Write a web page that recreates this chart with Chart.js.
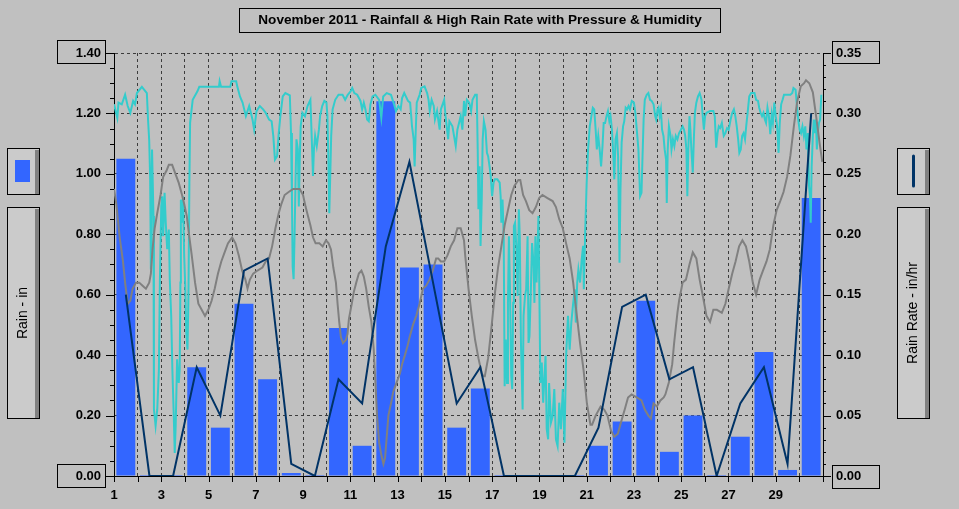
<!DOCTYPE html>
<html>
<head>
<meta charset="utf-8">
<title>November 2011 - Rainfall</title>
<script src="https://cdn.jsdelivr.net/npm/chart.js@4.4.0/dist/chart.umd.min.js"></script>
<style>
  html, body { margin: 0; padding: 0; background: #c0c0c0; }
  canvas { display: block; }
</style>
</head>
<body>
<canvas id="myChart" width="959" height="509"></canvas>
<script>
'use strict';

// jours du mois
let dayLabels = ['1','2','3','4','5','6','7','8','9','10','11','12','13','14','15',
  '16','17','18','19','20','21','22','23','24','25','26','27','28','29','30'];

// pluie par jour (in)
let rainfall = [1.05, 0, 0, 0.36, 0.16, 0.57, 0.32, 0.01, 0, 0.49, 0.10, 1.24, 0.69, 0.70, 0.16,
  0.29, 0, 0, 0, 0, 0.10, 0.18, 0.58, 0.08, 0.20, 0, 0.13, 0.41, 0.02, 0.92];

// intensite max (in/hr)
let rainRate = [0.15, 0, 0, 0.09, 0.05, 0.17, 0.18, 0.01, 0, 0.08, 0.06, 0.19, 0.26, 0.16, 0.06,
  0.09, 0, 0, 0, 0, 0.04, 0.14, 0.15, 0.08, 0.09, 0, 0.06, 0.09, 0.01, 0.30];

// pression (inHg) - jour decimal / valeur
let presDays = [1.00, 1.10, 1.24, 1.38, 1.47, 1.58, 1.69, 1.79, 1.93, 2.07, 2.21, 2.35, 2.49, 2.56, 2.63,
  2.72, 2.83, 2.97, 3.08, 3.22, 3.32, 3.46, 3.60, 3.74, 3.88, 3.97, 4.08, 4.19, 4.29, 4.43,
  4.57, 4.71, 4.85, 4.99, 5.13, 5.26, 5.40, 5.54, 5.68, 5.82, 6.00, 6.14, 6.28, 6.42, 6.56,
  6.65, 6.75, 6.89, 7.07, 7.28, 7.42, 7.56, 7.69, 7.83, 7.97, 8.08, 8.22, 8.39, 8.58, 8.86,
  9.00, 9.11, 9.21, 9.31, 9.42, 9.53, 9.69, 9.83, 9.97, 10.08, 10.18, 10.28, 10.39, 10.46, 10.53,
  10.60, 10.69, 10.81, 10.88, 10.94, 11.06, 11.15, 11.25, 11.36, 11.47, 11.57, 11.67, 11.78, 11.89, 11.99,
  12.06, 12.13, 12.22, 12.31, 12.40, 12.47, 12.54, 12.61, 12.72, 12.82, 12.96, 13.10, 13.19, 13.31, 13.42,
  13.51, 13.65, 13.79, 13.93, 14.07, 14.21, 14.35, 14.49, 14.63, 14.72, 14.83, 14.97, 15.11, 15.25, 15.39,
  15.53, 15.67, 15.81, 15.86, 16.00, 16.14, 16.28, 16.42, 16.56, 16.63, 16.69, 16.83, 16.97, 17.11, 17.25,
  17.39, 17.53, 17.67, 17.81, 17.94, 18.11, 18.19, 18.31, 18.43, 18.57, 18.71, 18.85, 18.99, 19.13, 19.34,
  19.56, 19.70, 19.84, 19.99, 20.13, 20.28, 20.43, 20.57, 20.72, 20.87, 21.01, 21.16, 21.23, 21.38, 21.59,
  21.74, 21.88, 22.03, 22.17, 22.32, 22.46, 22.61, 22.75, 22.90, 23.12, 23.32, 23.46, 23.61, 23.72, 23.83,
  23.97, 24.12, 24.26, 24.33, 24.48, 24.62, 24.70, 24.77, 24.84, 24.91, 25.06, 25.20, 25.35, 25.49, 25.64,
  25.78, 25.93, 26.07, 26.22, 26.36, 26.51, 26.72, 26.87, 27.01, 27.16, 27.30, 27.45, 27.59, 27.74, 27.88,
  28.03, 28.17, 28.32, 28.46, 28.61, 28.75, 28.90, 29.04, 29.19, 29.33, 29.48, 29.62, 29.77, 29.91, 30.06,
  30.20, 30.28, 30.42, 30.57, 30.71, 30.86, 30.97];
let presVals = [30.15, 30.10, 29.99, 29.91, 29.84, 29.77, 29.78, 29.82, 29.84, 29.84, 29.83, 29.82, 29.84, 29.87, 29.95,
  30.02, 30.07, 30.13, 30.19, 30.21, 30.23, 30.23, 30.20, 30.17, 30.13, 30.10, 30.06, 29.99, 29.93, 29.84,
  29.77, 29.75, 29.73, 29.75, 29.78, 29.82, 29.87, 29.91, 29.94, 29.97, 29.99, 29.97, 29.93, 29.88, 29.85,
  29.82, 29.85, 29.87, 29.88, 29.89, 29.91, 29.92, 29.96, 30.02, 30.07, 30.10, 30.13, 30.14, 30.15, 30.15,
  30.13, 30.09, 30.06, 30.03, 29.99, 29.97, 29.97, 29.96, 29.98, 29.97, 29.95, 29.89, 29.84, 29.77, 29.71,
  29.66, 29.64, 29.65, 29.67, 29.72, 29.77, 29.81, 29.84, 29.87, 29.88, 29.86, 29.82, 29.76, 29.71, 29.62,
  29.51, 29.40, 29.31, 29.27, 29.24, 29.26, 29.33, 29.40, 29.44, 29.48, 29.51, 29.54, 29.57, 29.60, 29.63,
  29.66, 29.70, 29.73, 29.77, 29.82, 29.83, 29.85, 29.88, 29.92, 29.92, 29.91, 29.91, 29.93, 29.96, 29.98,
  30.02, 30.02, 29.98, 29.93, 29.82, 29.73, 29.65, 29.59, 29.54, 29.53, 29.53, 29.59, 29.69, 29.80, 29.89,
  29.96, 30.03, 30.08, 30.13, 30.16, 30.18, 30.18, 30.13, 30.11, 30.08, 30.07, 30.09, 30.12, 30.13, 30.12,
  30.11, 30.09, 30.05, 30.02, 29.97, 29.92, 29.84, 29.74, 29.64, 29.55, 29.44, 29.37, 29.37, 29.40, 29.43,
  29.42, 29.40, 29.35, 29.33, 29.34, 29.38, 29.42, 29.46, 29.47, 29.46, 29.45, 29.42, 29.40, 29.39, 29.44,
  29.43, 29.45, 29.46, 29.47, 29.51, 29.57, 29.64, 29.69, 29.74, 29.78, 29.84, 29.85, 29.90, 29.94, 29.92,
  29.85, 29.79, 29.73, 29.71, 29.75, 29.75, 29.74, 29.77, 29.82, 29.87, 29.91, 29.96, 29.98, 29.96, 29.91,
  29.84, 29.80, 29.85, 29.88, 29.91, 29.95, 30.03, 30.08, 30.11, 30.14, 30.19, 30.26, 30.36, 30.44, 30.49,
  30.50, 30.51, 30.50, 30.47, 30.39, 30.30, 30.24];

// humidite (%) - jour decimal / valeur
let humDays = [1.00, 1.14, 1.19, 1.33, 1.47, 1.58, 1.69, 1.81, 1.89, 1.97, 2.18, 2.39, 2.44, 2.49, 2.53,
  2.56, 2.61, 2.67, 2.69, 2.76, 2.83, 2.90, 2.94, 3.00, 3.04, 3.08, 3.14, 3.19, 3.25, 3.32,
  3.36, 3.42, 3.47, 3.53, 3.57, 3.61, 3.67, 3.74, 3.78, 3.81, 3.83, 3.88, 3.92, 3.97, 4.01,
  4.06, 4.11, 4.15, 4.19, 4.22, 4.33, 4.53, 4.61, 5.44, 5.47, 5.53, 5.92, 5.97, 6.17, 6.22,
  6.33, 6.44, 6.58, 6.72, 6.86, 6.93, 7.03, 7.17, 7.31, 7.42, 7.56, 7.67, 7.74, 7.81, 7.90,
  7.97, 8.04, 8.14, 8.25, 8.44, 8.49, 8.53, 8.56, 8.60, 8.64, 8.68, 8.72, 8.78, 8.82, 8.86,
  8.90, 8.97, 9.08, 9.19, 9.31, 9.36, 9.42, 9.46, 9.51, 9.58, 9.67, 9.72, 9.81, 9.90, 9.99,
  10.03, 10.07, 10.11, 10.15, 10.19, 10.25, 10.36, 10.50, 10.67, 10.78, 10.89, 11.01, 11.08, 11.17, 11.29,
  11.43, 11.50, 11.57, 11.64, 11.71, 11.78, 11.85, 11.94, 12.06, 12.22, 12.31, 12.39, 12.54, 12.72, 12.85,
  12.93, 13.03, 13.13, 13.19, 13.28, 13.44, 13.53, 13.61, 13.68, 13.72, 13.76, 13.81, 13.93, 14.00, 14.14,
  14.25, 14.31, 14.36, 14.44, 14.53, 14.58, 14.67, 14.78, 14.83, 14.97, 15.03, 15.14, 15.19, 15.32, 15.46,
  15.53, 15.67, 15.74, 15.81, 15.86, 15.93, 16.03, 16.11, 16.17, 16.28, 16.35, 16.39, 16.42, 16.47, 16.51,
  16.56, 16.60, 16.65, 16.72, 16.78, 16.83, 16.89, 16.94, 17.00, 17.06, 17.11, 17.22, 17.32, 17.36, 17.39,
  17.44, 17.49, 17.53, 17.58, 17.63, 17.67, 17.71, 17.75, 17.81, 17.85, 17.89, 17.92, 17.97, 18.03, 18.08,
  18.13, 18.17, 18.22, 18.29, 18.33, 18.39, 18.44, 18.50, 18.54, 18.58, 18.64, 18.69, 18.75, 18.79, 18.83,
  18.88, 18.92, 18.96, 19.00, 19.04, 19.10, 19.16, 19.20, 19.26, 19.31, 19.37, 19.41, 19.49, 19.56, 19.63,
  19.70, 19.77, 19.84, 19.91, 19.99, 20.06, 20.13, 20.21, 20.28, 20.35, 20.43, 20.50, 20.54, 20.60, 20.65,
  20.72, 20.79, 20.85, 20.88, 20.94, 21.00, 21.06, 21.13, 21.20, 21.26, 21.32, 21.38, 21.43, 21.49, 21.55,
  21.61, 21.67, 21.72, 21.78, 21.84, 21.90, 21.96, 22.01, 22.07, 22.13, 22.17, 22.22, 22.28, 22.33, 22.39,
  22.43, 22.48, 22.54, 22.59, 22.65, 22.71, 22.77, 22.83, 22.91, 23.00, 23.06, 23.12, 23.19, 23.26, 23.32,
  23.36, 23.41, 23.46, 23.54, 23.61, 23.68, 23.75, 23.83, 23.90, 23.94, 24.00, 24.04, 24.09, 24.14, 24.19,
  24.25, 24.30, 24.36, 24.39, 24.43, 24.48, 24.55, 24.59, 24.65, 24.71, 24.77, 24.84, 24.91, 24.99, 25.06,
  25.12, 25.17, 25.22, 25.26, 25.30, 25.35, 25.39, 25.43, 25.49, 25.54, 25.58, 25.64, 25.71, 25.78, 25.86,
  25.90, 25.96, 26.01, 26.07, 26.22, 26.36, 26.42, 26.48, 26.54, 26.59, 26.65, 26.72, 26.80, 26.87, 26.94,
  27.01, 27.09, 27.16, 27.23, 27.29, 27.35, 27.41, 27.46, 27.52, 27.58, 27.64, 27.70, 27.75, 27.81, 27.88,
  27.96, 28.10, 28.17, 28.25, 28.30, 28.36, 28.42, 28.48, 28.54, 28.59, 28.65, 28.71, 28.77, 28.83, 28.88,
  28.94, 29.00, 29.06, 29.12, 29.17, 29.23, 29.29, 29.35, 29.62, 29.70, 29.75, 29.84, 29.91, 29.96, 30.01,
  30.07, 30.13, 30.19, 30.25, 30.30, 30.36, 30.41, 30.45, 30.48, 30.52, 30.57, 30.61, 30.65, 30.70, 30.74,
  30.78, 30.83, 30.88, 30.93];
let humVals = [95.9, 93.5, 96.2, 95.9, 97.6, 95.6, 94.4, 96.5, 95.9, 97.9, 99.0, 97.9, 93.2, 89.5, 82.6,
  66.6, 87.9, 76.1, 41.8, 38.9, 41.8, 48.9, 64.3, 77.8, 79.6, 72.5, 80.2, 74.9, 70.2, 73.7,
  64.9, 58.4, 48.9, 40.6, 34.1, 38.9, 50.7, 46.5, 48.9, 64.3, 79.0, 74.9, 79.6, 69.0, 64.3,
  55.4, 52.4, 61.9, 82.0, 92.6, 96.7, 98.2, 99.0, 99.0, 100.0, 99.0, 99.0, 100.0, 100.0, 99.0,
  97.3, 96.2, 93.8, 95.6, 93.2, 91.4, 94.7, 95.6, 95.0, 94.4, 93.2, 92.9, 90.3, 86.1, 86.7,
  90.8, 93.8, 97.3, 97.9, 97.5, 90.8, 78.9, 67.1, 64.9, 72.5, 82.0, 89.7, 87.9, 77.8, 86.1,
  92.0, 94.4, 93.8, 95.6, 96.7, 90.8, 83.2, 87.9, 90.3, 88.5, 91.4, 93.8, 95.6, 96.5, 96.2,
  93.8, 86.7, 76.6, 83.2, 90.3, 95.0, 96.7, 97.6, 97.6, 96.7, 97.6, 98.2, 98.8, 97.9, 97.6,
  96.5, 95.0, 96.2, 95.0, 93.2, 92.9, 95.9, 97.3, 97.6, 96.7, 93.5, 97.3, 97.9, 97.6, 95.9,
  94.7, 95.6, 95.0, 97.0, 97.9, 96.5, 96.2, 92.0, 89.7, 84.9, 90.3, 96.2, 97.6, 98.8, 99.1,
  97.9, 96.7, 94.7, 96.7, 95.6, 93.2, 94.7, 91.4, 95.0, 96.7, 93.8, 89.7, 92.9, 92.0, 88.5,
  91.4, 93.8, 91.4, 96.5, 93.8, 96.7, 96.2, 94.7, 96.7, 97.6, 97.6, 87.9, 77.3, 84.9, 70.8,
  79.0, 89.7, 92.9, 91.4, 87.3, 86.7, 84.9, 83.2, 79.6, 82.0, 82.6, 82.6, 82.0, 79.6, 74.9,
  79.0, 72.5, 45.9, 54.2, 46.5, 60.7, 72.5, 64.3, 47.7, 45.4, 60.7, 74.3, 74.9, 70.2, 61.9,
  77.3, 72.5, 53.6, 41.8, 58.4, 61.9, 63.1, 72.5, 53.6, 54.8, 63.1, 71.3, 67.8, 60.7, 72.5,
  64.3, 70.2, 76.1, 61.9, 46.5, 50.1, 43.0, 46.5, 51.3, 38.3, 36.5, 46.5, 39.5, 40.6, 45.4,
  36.5, 35.3, 43.0, 38.3, 45.4, 35.9, 51.3, 58.4, 52.4, 57.2, 60.7, 63.1, 57.2, 64.3, 66.6,
  64.3, 68.4, 70.8, 63.1, 73.7, 82.0, 87.9, 92.0, 93.8, 95.3, 95.0, 91.4, 87.9, 90.3, 87.9,
  84.9, 88.5, 92.6, 92.6, 93.8, 94.7, 92.9, 93.8, 91.4, 86.7, 82.6, 89.7, 90.8, 86.7, 67.8,
  80.8, 89.1, 92.0, 92.9, 95.3, 95.0, 95.6, 95.0, 96.5, 96.2, 94.4, 91.4, 87.9, 79.6, 80.2,
  86.1, 93.2, 96.7, 97.6, 97.9, 96.7, 96.5, 95.9, 93.8, 93.2, 95.0, 95.3, 93.8, 95.0, 91.4,
  90.3, 87.9, 86.1, 78.4, 87.9, 92.0, 90.3, 87.9, 89.7, 88.5, 90.3, 89.7, 90.8, 91.4, 92.0,
  91.4, 90.3, 87.9, 79.6, 87.9, 93.8, 91.4, 87.9, 83.8, 90.3, 94.4, 96.2, 97.3, 97.9, 96.7,
  94.4, 91.4, 93.8, 94.4, 94.7, 94.7, 93.8, 88.2, 90.8, 92.0, 91.7, 92.6, 90.3, 90.8, 91.7,
  91.4, 93.2, 94.4, 95.0, 93.8, 92.0, 89.7, 87.3, 87.9, 90.3, 90.8, 89.7, 92.0, 94.4, 97.3,
  97.9, 97.9, 96.7, 96.5, 95.3, 94.4, 93.8, 94.4, 93.2, 92.6, 95.3, 93.8, 90.6, 94.1, 92.6,
  96.2, 93.8, 92.0, 87.3, 92.6, 95.9, 96.7, 97.6, 97.6, 97.9, 98.8, 98.5, 95.0, 92.9, 91.4,
  90.8, 92.0, 90.3, 92.0, 87.9, 90.8, 81.4, 79.6, 74.9, 84.9, 90.3, 93.2, 90.8, 93.2, 87.9,
  90.8, 92.6, 93.2, 97.6];

let title = 'November 2011 - Rainfall & High Rain Rate with Pressure & Humidity';

// couleurs
let barColor = '#3366ff';
let rateColor = '#003366';
let presColor = '#808080';
let humColor = '#33cccc';
let gridColor = '#3c3c3c';

Chart.defaults.font.family = '"Liberation Sans", Arial, sans-serif';
Chart.defaults.color = '#000';

let presPts = presDays.map((d, i) => ({x: d, y: presVals[i]}));
let humPts = humDays.map((d, i) => ({x: d, y: humVals[i]}));

function frame(ctx, x, y, w, h, fill) {
  if (fill) {
    ctx.fillStyle = fill;
    ctx.fillRect(x, y, w, h);
  }
  ctx.strokeStyle = '#000';
  ctx.lineWidth = 1;
  ctx.strokeRect(x + 0.5, y + 0.5, w, h);
}

// panneau gris en relief (legende)
function panel(ctx, x, y, w, h) {
  ctx.fillStyle = '#cbcbcb';
  ctx.fillRect(x, y, w, h);
  ctx.fillStyle = '#808080';
  ctx.fillRect(x + w - 4, y + 2, 4, h - 2);
  frame(ctx, x, y, w, h);
}

let decor = {
  id: 'decor',
  beforeDraw(chart) {
    let ctx = chart.ctx;
    ctx.save();
    ctx.fillStyle = '#c0c0c0';
    ctx.fillRect(0, 0, chart.width, chart.height);
    ctx.restore();
  },
  afterDraw(chart) {
    let ctx = chart.ctx;
    let a = chart.chartArea;
    let s = chart.scales;
    ctx.save();

    // titre
    frame(ctx, 239, 8, 481, 24);
    ctx.fillStyle = '#000';
    ctx.font = 'bold 13.6px "Liberation Sans", Arial, sans-serif';
    ctx.textAlign = 'center';
    ctx.textBaseline = 'middle';
    ctx.fillText(title, 480, 20);

    ctx.strokeStyle = '#000';
    ctx.lineWidth = 1;
    ctx.beginPath();
    // graduations gauche
    for (let i = 0; i <= 28; i++) {
      let y = Math.round(s.y.getPixelForValue(i * 0.05)) + 0.5;
      let len = i % 4 === 0 ? 8 : 4;
      ctx.moveTo(a.left - len, y);
      ctx.lineTo(a.left, y);
    }
    // graduations droite
    for (let i = 0; i <= 35; i++) {
      let y = Math.round(s.yr.getPixelForValue(i * 0.01)) + 0.5;
      let len = i % 5 === 0 ? 8 : 3;
      ctx.moveTo(a.right, y);
      ctx.lineTo(a.right + len, y);
    }
    // graduations bas
    for (let d = 1; d <= 31; d++) {
      let x = Math.round(s.x.getPixelForValue(d)) + 0.5;
      ctx.moveTo(x, a.bottom);
      ctx.lineTo(x, a.bottom + 6);
    }
    ctx.stroke();

    // cadres des valeurs extremes
    let yTop = Math.round(s.y.getPixelForValue(1.4));
    let yBot = Math.round(s.y.getPixelForValue(0));
    frame(ctx, 57, yTop - 13, 48, 23);
    frame(ctx, 57, yBot - 12, 48, 23);
    frame(ctx, 832, yTop - 12, 47, 22);
    frame(ctx, 832, yBot - 11, 47, 23);

    // legendes
    panel(ctx, 7, 148, 32, 46);
    ctx.fillStyle = barColor;
    ctx.fillRect(15, 160, 15, 22);
    panel(ctx, 7, 207, 32, 211);
    panel(ctx, 897, 148, 32, 46);
    ctx.strokeStyle = rateColor;
    ctx.lineWidth = 3;
    ctx.lineCap = 'round';
    ctx.beginPath();
    ctx.moveTo(913.5, 156);
    ctx.lineTo(913.5, 186);
    ctx.stroke();
    panel(ctx, 897, 207, 32, 211);

    ctx.fillStyle = '#000';
    ctx.font = '14px "Liberation Sans", Arial, sans-serif';
    ctx.textAlign = 'center';
    ctx.textBaseline = 'middle';
    ctx.translate(23, 313);
    ctx.rotate(-Math.PI / 2);
    ctx.fillText('Rain - in', 0, 0);
    ctx.rotate(Math.PI / 2);
    ctx.translate(890, 0);
    ctx.rotate(-Math.PI / 2);
    ctx.fillText('Rain Rate - in/hr', 0, 0);
    ctx.restore();
  }
};

let tickFont = {size: 13, weight: 'bold'};

new Chart(document.getElementById('myChart'), {
  type: 'line',
  data: {
    labels: dayLabels,
    datasets: [
      {
        type: 'line', label: 'High Rain Rate', data: rainRate,
        xAxisID: 'xd', yAxisID: 'yr', borderColor: rateColor, borderWidth: 2,
        pointRadius: 0, tension: 0, order: 1
      },
      {
        type: 'line', label: 'Pressure', data: presPts,
        xAxisID: 'x', yAxisID: 'yp', borderColor: presColor, borderWidth: 2,
        pointRadius: 0, tension: 0, order: 2
      },
      {
        type: 'line', label: 'Humidity', data: humPts,
        xAxisID: 'x', yAxisID: 'yh', borderColor: humColor, borderWidth: 2,
        pointRadius: 0, tension: 0, order: 3
      },
      {
        type: 'bar', label: 'Rainfall', data: rainfall,
        xAxisID: 'xd', yAxisID: 'y', backgroundColor: barColor, grouped: false,
        barPercentage: 0.8, categoryPercentage: 1, minBarLength: 1, order: 4
      }
    ]
  },
  options: {
    responsive: false,
    animation: false,
    events: [],
    layout: {padding: {top: 53, left: 0, right: 0, bottom: 0}},
    plugins: {
      legend: {display: false},
      tooltip: {enabled: false}
    },
    scales: {
      x: {
        type: 'linear', position: 'bottom', min: 1, max: 31, offset: false,
        afterFit: (sc) => { sc.height = 33; },
        ticks: {
          stepSize: 1, autoSkip: false, maxRotation: 0, padding: 12, font: tickFont,
          callback: (v) => (v % 2 === 1 && v < 30) ? String(v) : ''
        },
        grid: {color: gridColor, drawTicks: false, offset: false},
        border: {color: '#000', width: 1, dash: [3, 3]}
      },
      xd: {type: 'category', display: false, offset: true, grid: {offset: true}},
      y: {
        position: 'left', min: 0, max: 1.4,
        afterFit: (sc) => { sc.width = 114; },
        ticks: {stepSize: 0.2, padding: 13, font: tickFont, callback: (v) => v.toFixed(2)},
        grid: {color: gridColor, drawTicks: false},
        border: {color: '#000', width: 1, dash: [3, 3]}
      },
      yr: {
        position: 'right', min: 0, max: 0.35,
        afterFit: (sc) => { sc.width = 136; },
        ticks: {stepSize: 0.05, padding: 13, font: tickFont, callback: (v) => v.toFixed(2)},
        grid: {drawOnChartArea: false, drawTicks: false},
        border: {color: '#000', width: 1}
      },
      yh: {display: false, min: 30, max: 105},
      yp: {display: false, min: 29.2, max: 30.6}
    }
  },
  plugins: [decor]
});
</script>
</body>
</html>
